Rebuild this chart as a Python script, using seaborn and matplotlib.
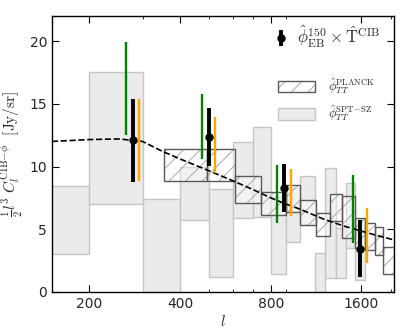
import numpy as np
import matplotlib
matplotlib.use("Agg")
import matplotlib.pyplot as plt
from matplotlib.patches import Patch
from matplotlib.legend_handler import HandlerTuple
from matplotlib.ticker import NullFormatter, FixedLocator
import seaborn as sns

# ===== style =====
sns.set_theme(style="ticks")
plt.rcParams.update({
    "font.family": ["DejaVu Sans"],
    "mathtext.fontset": "cm",
    "hatch.linewidth": 0.7,
})

# ===== data =====
# SPT-SZ bins (light gray boxes)
spt_lo = [140, 200, 300, 400, 500, 600, 700, 800, 900, 1000, 1120, 1212, 1316, 1420, 1518]
spt_hi = [200, 300, 400, 500, 600, 700, 800, 900, 1000, 1120, 1212, 1316, 1420, 1518, 1640]
spt_bot = [3.0, 7.0, -0.5, 5.76, 1.2, 5.9, 6.0, 1.4, 4.0, 5.3, -0.5, 1.1, 1.1, 3.5, 0.96]
spt_top = [8.42, 17.55, 7.38, 10.0, 8.2, 11.95, 13.17, 7.6, 8.3, 9.28, 3.1, 9.9, 5.1, 8.72, 5.8]

# Planck bins (hatched boxes)
pl_lo = [354, 490, 608, 741, 898, 998, 1130, 1254, 1377, 1518, 1640, 1776, 1894]
pl_hi = [490, 608, 741, 898, 998, 1130, 1254, 1377, 1518, 1640, 1776, 1894, 2060]
pl_bot = [8.88, 8.83, 7.09, 6.11, 6.4, 5.36, 4.43, 5.68, 4.3, 3.5, 3.36, 2.96, 1.4]
pl_top = [11.36, 11.36, 9.23, 7.97, 8.5, 7.31, 6.29, 7.84, 7.65, 5.9, 5.5, 5.15, 3.57]

# theory curve (dashed)
theory_l = [150, 200, 250, 300, 350, 400, 500, 600, 700, 800, 900, 1000, 1200, 1400, 1600, 1800, 2050]
theory_y = [12.0, 12.15, 12.2, 12.0, 11.2, 10.6, 9.65, 8.85, 8.15, 7.5, 7.0, 6.6, 5.8, 5.25, 4.85, 4.5, 4.15]

# EB x CIB band powers
pts_l = [278, 498, 886, 1585]
black_y = [12.1, 12.35, 8.29, 3.44]
black_err = [3.32, 2.3, 1.92, 2.27]
green_y = [16.19, 13.18, 7.8, 6.6]
green_err = [3.71, 2.58, 2.3, 2.71]
orange_y = [12.09, 11.73, 7.9, 4.49]
orange_err = [3.27, 2.24, 1.87, 2.2]

xticks = [200, 400, 800, 1600]
yticks = [0, 5, 10, 15, 20]

# ===== plot =====
fig, ax = plt.subplots(figsize=(4.15, 3.34), dpi=100)
fig.subplots_adjust(left=0.125, right=0.949, bottom=0.126, top=0.952)
ax.set_xscale("log")

ax.bar(spt_lo, np.subtract(spt_top, spt_bot), width=np.subtract(spt_hi, spt_lo),
       bottom=spt_bot, align="edge", color="#ebebeb", edgecolor="#c6c6c6",
       linewidth=1.0, zorder=1)

ax.bar(pl_lo, np.subtract(pl_top, pl_bot), width=np.subtract(pl_hi, pl_lo),
       bottom=pl_bot, align="edge", color=(1, 1, 1, 0.4), edgecolor="#a9a9a9",
       hatch="//", linewidth=0, zorder=2)
ax.bar(pl_lo, np.subtract(pl_top, pl_bot), width=np.subtract(pl_hi, pl_lo),
       bottom=pl_bot, align="edge", fill=False, edgecolor="#5a5a5a",
       linewidth=1.0, zorder=3)

sns.lineplot(x=theory_l, y=theory_y, ax=ax, color="black", linestyle="--",
             linewidth=1.2, zorder=4)

ax.errorbar(np.array(pts_l) * 0.95, green_y, yerr=green_err, fmt="none",
            ecolor="green", elinewidth=1.7, capsize=0, zorder=5)
ax.errorbar(np.array(pts_l) * 1.05, orange_y, yerr=orange_err, fmt="none",
            ecolor="orange", elinewidth=1.7, capsize=0, zorder=5)
h_black = ax.errorbar(pts_l, black_y, yerr=black_err, fmt="o", color="black",
                      ms=5, elinewidth=2.8, capsize=0, zorder=6)

ax.set_xlim(150, 2050)
ax.set_ylim(0, 22)
ax.xaxis.set_major_locator(FixedLocator(xticks))
ax.set_xticklabels([str(t) for t in xticks])
ax.xaxis.set_minor_formatter(NullFormatter())
ax.set_yticks(yticks)
ax.tick_params(which="both", direction="in", top=True, right=True,
               labelsize=10, color="black")
ax.tick_params(which="major", length=5, width=0.8)
ax.tick_params(which="minor", length=2.5, width=0.6)
for s in ax.spines.values():
    s.set_linewidth(1.0)
    s.set_color("black")

ax.set_xlabel(r"$l$", fontsize=11, labelpad=2)
ax.set_ylabel(r"$\frac{1}{2}l^3\ C_l^{\rm CIB\!-\!\phi}\ \ [\rm Jy/sr]$", fontsize=11)
ax.yaxis.set_label_coords(-0.078, 0.5)

# legends
leg1 = ax.legend([h_black], [r"$\hat{\phi}^{150}_{\rm EB}\times\hat{\rm T}^{\rm CIB}$"],
                 loc="upper right", bbox_to_anchor=(0.98, 0.995), frameon=False,
                 fontsize=12, handlelength=0.8, handletextpad=0.6, borderaxespad=0)
ax.add_artist(leg1)

h_pl = (Patch(facecolor="white", edgecolor="#a9a9a9", hatch="//", linewidth=0),
        Patch(fill=False, edgecolor="#5a5a5a", linewidth=1.0))
h_spt = Patch(facecolor="#ebebeb", edgecolor="#c6c6c6", linewidth=1.0)
ax.legend([h_pl, h_spt],
          [r"$\hat{\phi}_{TT}^{\rm PLANCK}$", r"$\hat{\phi}_{TT}^{\rm SPT\!-\!SZ}$"],
          handler_map={tuple: HandlerTuple(ndivide=1, pad=0)},
          loc="upper right", bbox_to_anchor=(0.96, 0.80), frameon=False,
          fontsize=9, handlelength=3.0, handleheight=1.0, handletextpad=1.0,
          labelspacing=0.6, borderaxespad=0)

fig.savefig("out.png", dpi=100)
